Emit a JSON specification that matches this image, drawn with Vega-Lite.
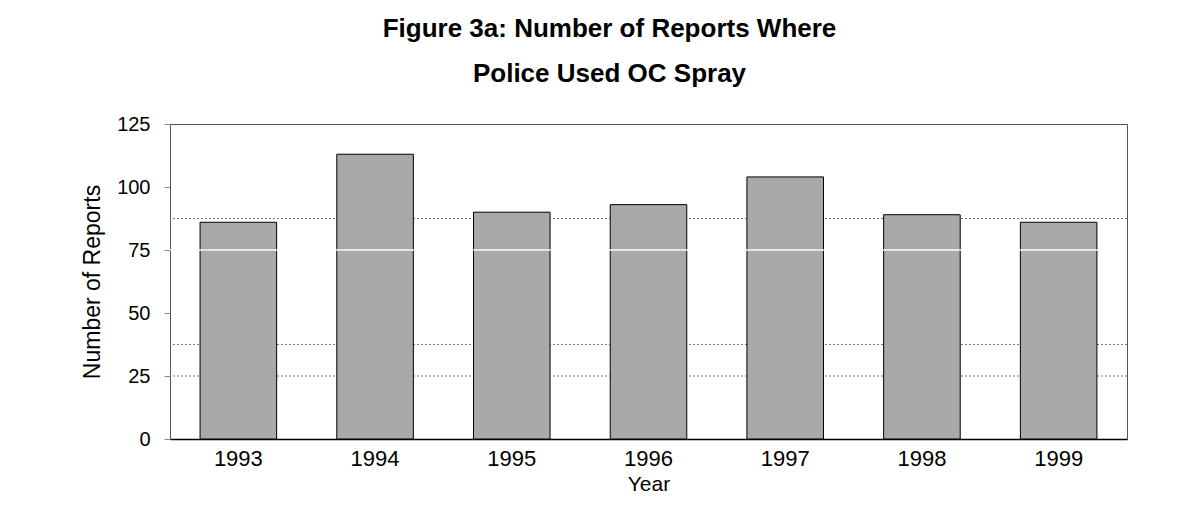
{
  "$schema": "https://vega.github.io/schema/vega-lite/v6.json",
  "width": 957,
  "height": 315,
  "autosize": {"type": "none"},
  "padding": {"left": 170, "top": 124, "right": 57, "bottom": 90},
  "background": "white",
  "title": {
    "text": ["Figure 3a: Number of Reports Where", "Police Used OC Spray"],
    "font": "Liberation Sans",
    "fontSize": 26,
    "fontWeight": "bold",
    "color": "#000000",
    "lineHeight": 45,
    "anchor": "middle",
    "dx": -39,
    "offset": 27
  },
  "datasets": {
    "bars": [
      {"year": "1993", "value": 86},
      {"year": "1994", "value": 113},
      {"year": "1995", "value": 90},
      {"year": "1996", "value": 93},
      {"year": "1997", "value": 104},
      {"year": "1998", "value": 89},
      {"year": "1999", "value": 86}
    ],
    "grid": [{"value": 25}, {"value": 37.5}, {"value": 87.5}],
    "streak": [{"value": 75}]
  },
  "encoding": {
    "y": {
      "field": "value",
      "type": "quantitative",
      "scale": {"domain": [0, 125], "nice": false},
      "axis": {
        "values": [0, 25, 50, 75, 100, 125],
        "title": "Number of Reports",
        "titleFont": "Liberation Sans",
        "titleFontSize": 23,
        "titleFontWeight": "normal",
        "titleColor": "#000000",
        "titlePadding": 12,
        "labelFont": "Liberation Sans",
        "labelFontSize": 20,
        "labelColor": "#000000",
        "labelPadding": 14,
        "ticks": true,
        "tickSize": 6,
        "tickColor": "#888888",
        "domainColor": "#555555",
        "grid": false
      }
    }
  },
  "layer": [
    {
      "data": {"name": "grid"},
      "mark": {"type": "rule", "color": "#777777", "strokeDash": [2, 2], "strokeWidth": 1}
    },
    {
      "data": {"name": "bars"},
      "mark": {"type": "bar", "fill": "#a9a9a9", "stroke": "#000000", "strokeWidth": 1},
      "encoding": {
        "x": {
          "field": "year",
          "type": "ordinal",
          "scale": {"paddingInner": 0.44, "paddingOuter": 0.22},
          "axis": {
            "title": "Year",
            "titleFont": "Liberation Sans",
            "titleFontSize": 21,
            "titleFontWeight": "normal",
            "titleColor": "#000000",
            "titlePadding": 4,
            "labelFont": "Liberation Sans",
            "labelFontSize": 22,
            "labelColor": "#000000",
            "labelAngle": 0,
            "labelPadding": 9,
            "ticks": false,
            "domainColor": "#000000",
            "domainWidth": 1.5,
            "grid": false
          }
        }
      }
    },
    {
      "data": {"name": "streak"},
      "mark": {"type": "rule", "color": "#ffffff", "strokeWidth": 2, "opacity": 0.7}
    }
  ],
  "config": {"view": {"stroke": "#555555"}}
}
